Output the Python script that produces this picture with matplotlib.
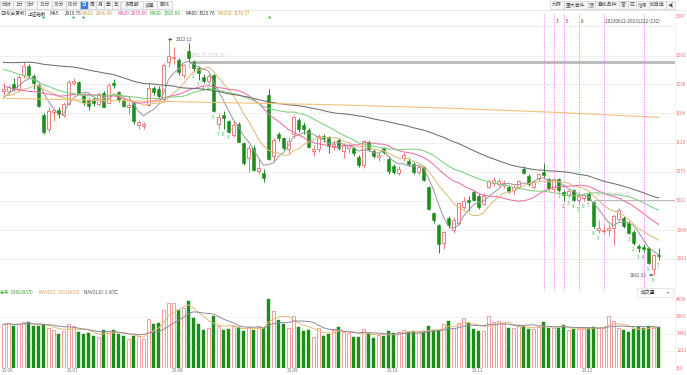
import numpy as np
import pandas as pd
import matplotlib
matplotlib.use("Agg")
import matplotlib.pyplot as plt
from matplotlib.patches import Rectangle
import matplotlib.transforms as mtransforms

plt.rcParams['font.family'] = ['Noto Sans CJK SC', 'DejaVu Sans']

W, H = 687, 375

# daily bars 2023-06-12 .. 2023-12-22 (SSE composite)
opens = [3225, 3226, 3238, 3230, 3255, 3273, 3254, 3236, 3180, 3155, 3186, 3190, 3180, 3202, 3241, 3243,
         3218, 3208, 3211, 3201, 3222, 3204, 3240, 3224, 3209, 3195, 3204, 3162, 3160, 3200, 3231, 3230,
         3210, 3280, 3288, 3284, 3256, 3300, 3280, 3268, 3252, 3245, 3256, 3165, 3181, 3170, 3143, 3165,
         3128, 3100, 3120, 3076, 3072, 3219, 3105, 3146, 3137, 3118, 3145, 3172, 3162, 3153, 3114, 3118,
         3142, 3140, 3122, 3134, 3114, 3120, 3120, 3103, 3088, 3131, 3114, 3103, 3120, 3098, 3086, 3073,
         3100, 3095, 3090, 3075, 3083, 3046, 2997, 2975, 2942, 2988, 2966, 2980, 3010, 3022, 3038, 3030,
         3015, 3046, 3053, 3052, 3051, 3047, 3040, 3047, 3080, 3067, 3046, 3063, 3075, 3061, 3042, 3061,
         3038, 3032, 3040, 3022, 3026, 3034, 3019, 2966, 2964, 2966, 2970, 2986, 2988, 2979, 2963, 2936,
         2935, 2932, 2893, 2920]
highs = [3240, 3237, 3250, 3256, 3280, 3276, 3258, 3240, 3185, 3195, 3193, 3195, 3205, 3246, 3250, 3245,
         3222, 3212, 3214, 3223, 3225, 3240, 3249, 3226, 3212, 3205, 3206, 3172, 3168, 3240, 3235, 3235,
         3278, 3322.13, 3308, 3288, 3276.78, 3316, 3284, 3272, 3258, 3260, 3258, 3185, 3188, 3172, 3170, 3168,
         3130, 3125, 3124, 3100, 3080, 3230, 3138, 3150, 3140, 3140, 3180, 3175, 3168, 3156, 3125, 3145,
         3146, 3142, 3135, 3137, 3128, 3130, 3122, 3106, 3135, 3135, 3118, 3112, 3122, 3104, 3090, 3085,
         3112, 3100, 3093, 3088, 3086, 3048, 3000, 2978, 2965, 2992, 2990, 3018, 3028, 3030, 3040, 3033,
         3035, 3062, 3065, 3064, 3060, 3051, 3050, 3060, 3085, 3070, 3060, 3072, 3091, 3064, 3063, 3063,
         3040, 3042, 3042, 3035, 3036, 3038, 3019.5, 2985, 2975, 2978, 2996, 3008, 2992, 2983, 2966, 2940,
         2940, 2935, 2922, 2932]
lows = [3219, 3218, 3225, 3225, 3250, 3250, 3230, 3195, 3145, 3150, 3170, 3176, 3178, 3200, 3237, 3220,
        3200, 3190, 3198, 3198, 3195, 3203, 3232, 3205, 3195, 3183, 3165, 3155, 3154, 3198, 3218, 3212,
        3205, 3270, 3276, 3256, 3250, 3281.73, 3262, 3247, 3240, 3238, 3186, 3155, 3155, 3148, 3140, 3130,
        3088, 3075, 3076, 3070, 3056, 3096, 3094, 3132, 3115, 3110, 3138, 3150, 3145, 3120, 3105, 3112,
        3130, 3110, 3115, 3115, 3100, 3110, 3105, 3083, 3082, 3114, 3100, 3095, 3108, 3071, 3070, 3068,
        3095, 3085, 3070, 3068, 3058, 3003, 2980, 2923, 2930, 2970, 2960, 2975, 3005, 3002, 3020, 3005,
        3012, 3044, 3048, 3048, 3045, 3036, 3033, 3044, 3070, 3048, 3042, 3058, 3065, 3040, 3038, 3038,
        3020, 3025, 3020, 3015, 3020, 3022.5, 2970, 2960, 2958, 2955, 2938, 2983, 2970, 2958, 2939, 2925,
        2925, 2902, 2882.02, 2910]
closes = [3229, 3233, 3229, 3252, 3273, 3255, 3240, 3197, 3150, 3189, 3190, 3182, 3202, 3243, 3245, 3222,
          3205, 3197, 3203, 3221, 3196, 3236, 3237, 3209, 3197, 3199, 3169, 3167, 3164, 3231, 3223, 3216,
          3275, 3291, 3290, 3261, 3275, 3288, 3268, 3260, 3244, 3254, 3189, 3178, 3176, 3150, 3163, 3131,
          3092, 3120, 3078, 3082, 3064, 3098, 3135, 3137, 3119, 3133, 3177, 3154, 3155, 3122, 3117, 3142,
          3137, 3123, 3126, 3120, 3125, 3124, 3110, 3088, 3133, 3117, 3104, 3107, 3112, 3076, 3074, 3080,
          3107, 3090, 3075, 3084, 3060, 3005, 2984, 2940, 2962, 2975, 2985, 3017, 3021, 3019, 3023, 3009,
          3030, 3058, 3059, 3057, 3054, 3039, 3046, 3057, 3073, 3052, 3055, 3070, 3069, 3044, 3061, 3041,
          3032, 3039, 3022, 3030, 3031, 3023, 2974, 2969, 2967, 2970, 2992, 3004, 2973, 2960, 2942, 2932,
          2931, 2904, 2920, 2917]
# volume in 1e5 lots
volumes = [3136, 3232, 3016, 3184, 3303, 3279, 3016, 2992, 3112, 2897, 2753, 2466, 2657, 3136, 2992, 2609,
           2466, 2538, 2298, 2226, 2705, 2681, 2705, 2466, 2298, 2107, 2322, 2298, 2107, 3495, 3184, 3256,
           4141, 4691, 4691, 4141, 4332, 4811, 3614, 3136, 2705, 2873, 3734, 2992, 2753, 2777, 2992, 2944,
           2657, 2944, 2705, 2992, 2873, 4931, 4069, 3471, 3136, 2897, 3734, 2944, 2633, 2705, 2226, 2873,
           2298, 2466, 2705, 2944, 2585, 2538, 2226, 2226, 2825, 2538, 2155, 2346, 2298, 2633, 2538, 2562,
           2705, 2585, 2633, 2585, 2633, 2992, 2705, 2753, 3136, 3351, 2897, 3232, 3614, 3232, 2777, 2657,
           2657, 3734, 3303, 3375, 3184, 2897, 2873, 3016, 3016, 2825, 2825, 2944, 3303, 2897, 2897, 2897,
           3064, 2705, 2777, 2825, 2825, 2897, 2944, 2897, 2897, 3710, 3400, 2900, 2700, 2600, 2800, 2950,
           2850, 3000, 2895, 2960]
# closes before the window, only used to warm up the moving averages
pre_closes = [3263, 3226, 3250, 3234, 3255, 3266, 3286, 3265, 3251, 3245, 3241, 3261, 3273,
              3297, 3312, 3312, 3327, 3315, 3314, 3318, 3318, 3338, 3385, 3393, 3370, 3367, 3301, 3275,
              3265, 3264, 3285, 3323,
              3350, 3334, 3395, 3357, 3319, 3310, 3272, 3311, 3291, 3284, 3297, 3284, 3296, 3246, 3212,
              3201, 3212, 3221, 3224, 3205,
              3204, 3231, 3232, 3196, 3198, 3214, 3231]
ma250_idx = [0, 11, 22, 33, 44, 55, 66, 77, 88, 99, 110, 121, 131]
ma250_val = [3212, 3210, 3208, 3206, 3204, 3202, 3200, 3197, 3194, 3190, 3186, 3181, 3176.57]

month_labels = ["23.06", "23.07", "23.08", "23.09", "23.10", "23.11", "23.12"]
month_idx = [0, 13, 34, 57, 77, 94, 116]

price_ticks = [3347, 3292, 3238, 3184, 3129, 3075, 3021, 2966, 2912]
vol_ticks = [4884, 3663, 2442, 1221, 0]
vol_tick_labels = ["4856", "3663", "2442", "1221", "310"]

gaps = [(37, 3276.78, 3281.73), (118, 3019.50, 3022.50)]
td_runs = [(37, 9), (111, 9), (125, 7)]
event_idx = [108, 110, 112, 115, 120, 128]
event_num = {110: "3", 112: "5", 115: "8"}

RED = '#ef7a7a'
VRED = '#f39c9c'
GREEN = '#1d8c1d'
FS = 3.5      # chinese / ui text
FN = 3.3      # numbers

fig = plt.figure(figsize=(W / 100, H / 100), dpi=100)


def px_axes(x0, y0, x1, y1, **kw):
    return fig.add_axes([x0 / W, 1 - y1 / H, (x1 - x0) / W, (y1 - y0) / H], **kw)


ax = px_axes(0, 20, 675, 288)
axv = px_axes(0, 296, 675, 368)
for a in (ax, axv):
    a.set_xlim(-0.7, 134.3)
    a.set_xticks([])
    a.set_yticks([])
    for s in a.spines.values():
        s.set_visible(False)
    a.patch.set_alpha(0)
ax.set_ylim(2857.8, 3358.3)
axv.set_ylim(0, 5170)

idx = np.arange(len(closes))
o, h, l, c = map(np.array, (opens, highs, lows, closes))
v = np.array(volumes, dtype=float)
up = c >= o

# grid
for t in price_ticks:
    ax.axhline(t, color='#eeeeee', lw=0.6, zorder=0)
for t in vol_ticks[1:-1]:
    axv.axhline(t, color='#f0f0f0', lw=0.6, zorder=0)

# candles
ax.vlines(idx[up], l[up], h[up], color=RED, lw=0.7, zorder=2)
ax.vlines(idx[~up], l[~up], h[~up], color=GREEN, lw=0.7, zorder=2)
body_lo = np.minimum(o, c)
body_h = np.maximum(np.abs(c - o), 0.9)
ax.bar(idx[up], body_h[up], bottom=body_lo[up], width=0.68, facecolor='white',
       edgecolor=RED, lw=0.7, zorder=3)
ax.bar(idx[~up], body_h[~up], bottom=body_lo[~up], width=0.68, color=GREEN,
       edgecolor=GREEN, lw=0.4, zorder=3)

# moving averages
full = pd.Series(list(pre_closes) + list(closes), dtype=float)
n_pre = len(pre_closes)
ma_cfg = [(5, '#9c9c9c'), (10, '#dfbb7c'), (20, '#f06fa4'), (30, '#80cf80'), (60, '#6e6e6e')]
for n, col in ma_cfg:
    ma = full.rolling(n).mean().values[n_pre:]
    ax.plot(idx, ma, color=col, lw=0.75, zorder=4)
ax.plot(ma250_idx, ma250_val, color='#f2c27c', lw=0.8, zorder=4)

# gap bands
for gi, glo, ghi in gaps:
    ax.fill_between([gi, 134.3], glo, ghi, color='#bdbdbd', lw=0, zorder=1)
    ax.annotate(f"{ghi:.2f}-{glo:.2f}", xy=(gi, ghi), xytext=(2, 2), textcoords='offset points',
                fontsize=FN, color='#c8c8c8', va='bottom', ha='left', zorder=5)

# TD sequence counts under the lows
for start, count in td_runs:
    for k in range(count):
        i = start + k
        col = '#2cb8d8' if k == 8 else '#3cbf3c'
        ax.annotate(str(k + 1), xy=(i, l[i]), xytext=(0, -2), textcoords='offset points',
                    ha='center', va='top', fontsize=FN, color=col, zorder=5)

# high / low marks
imax = int(np.argmax(h))
imin = int(np.argmin(l))
ax.annotate(f"{h[imax]:.2f}", xy=(imax, h[imax]), xytext=(5, 0), textcoords='offset points',
            fontsize=FN, color='#555555', va='center', ha='left',
            arrowprops=dict(arrowstyle='<-', color='#555555', lw=0.6, shrinkA=0, shrinkB=0))
ax.annotate(f"{l[imin]:.2f}", xy=(imin, l[imin]), xytext=(-5, 0), textcoords='offset points',
            fontsize=FN, color='#555555', va='center', ha='right',
            arrowprops=dict(arrowstyle='->', color='#555555', lw=0.6, shrinkA=0, shrinkB=0))

# event lines
xtr_p = ax.get_xaxis_transform()
for i in event_idx:
    ax.axvline(i, ymin=-0.008, ymax=1.022, color='#ff70ff', lw=0.6, ls=(0, (1.5, 1.5)),
               clip_on=False, zorder=1)
    if i in event_num:
        ax.text(i + 0.5, 0.995, event_num[i], transform=xtr_p,
                fontsize=FN, color='#444444', ha='left', va='center')
ax.text(event_idx[4] + 0.3, 0.995, "20230612-20231222 (132)", transform=xtr_p,
        fontsize=FN, color='#444444', ha='left', va='center')

# price axis labels
ytr = ax.get_yaxis_transform()
for t in price_ticks:
    tr = ytr if t != price_ticks[0] else mtransforms.offset_copy(ytr, fig=fig, y=10, units='dots')
    ax.text(1.002, t, str(t), transform=tr, fontsize=FN, color='#f07070', ha='left', va='center')

# volume bars
axv.bar(idx[up], v[up], width=0.78, facecolor='white', edgecolor=VRED, lw=0.7, zorder=2)
axv.bar(idx[~up], v[~up], width=0.78, color=GREEN, edgecolor=GREEN, lw=0.3, zorder=2)
vs = pd.Series(v)
axv.plot(idx, vs.rolling(5, min_periods=1).mean(), color='#f0b47a', lw=0.7, zorder=3)
axv.plot(idx, vs.rolling(10, min_periods=1).mean(), color='#8a8a9a', lw=0.7, zorder=3)
vtr = axv.get_yaxis_transform()
for t, lab in zip(vol_ticks, vol_tick_labels):
    axv.text(1.002, t, lab, transform=vtr, fontsize=FN, color='#f07070', ha='left', va='center')
xtr = axv.get_xaxis_transform()
for i, lab in zip(month_idx, month_labels):
    axv.text(i - 0.4, -0.04, lab, transform=xtr, fontsize=FN, color='#777777', ha='left', va='center')

# overlay for the UI chrome, in pixel coordinates
ov = fig.add_axes([0, 0, 1, 1], zorder=10)
ov.set_xlim(0, W)
ov.set_ylim(H, 0)
ov.axis('off')
ov.patch.set_alpha(0)


def button(x0, x1, label, active=False):
    ov.add_patch(Rectangle((x0, 0.5), x1 - x0, 8.5, facecolor='#3b7fe0' if active else '#f7f7f7',
                           edgecolor='#d0d0d0', lw=0.5))
    ov.text((x0 + x1) / 2, 4.8, label, fontsize=FS, color='white' if active else '#555555',
            ha='center', va='center')


left_btns = [(0, 13, "分时"), (13, 25, "1分"), (25, 37, "5分"), (37, 52, "15分"), (52, 66, "30分"),
             (66, 80, "60分"), (80, 88, "日"), (88, 96, "周"), (96, 104, "月"), (104, 112, "季"),
             (112, 120, "年"), (121, 143, "多周期"), (143, 157, "设置"), (157, 172, "画线")]
for x0, x1, lab in left_btns:
    button(x0, x1, lab, lab == "日")
right_btns = [(550, 564, "九转"), (564, 588, "重大事件"), (588, 595, "顶"), (595, 619, "叠加品种"),
              (619, 628, "窗"), (628, 636, "区"), (636, 649, "信号"), (649, 666, "加自选"), (666, 675, "◀|")]
for x0, x1, lab in right_btns:
    button(x0, x1, lab)
ov.plot([0, W], [9.5, 9.5], color='#e4e4e4', lw=0.6)

# MA header
hdr = [(0, "日线(前复权)", '#333333'), (28, "上证指数", '#333333'),
       (50, "MA5:", '#333333'), (65, "2919.76", '#333333'),
       (82, "MA10:", '#c79a3c'), (96, "2946.40", '#c79a3c'),
       (117, "MA20:", '#e0409a'), (131, "2975.66", '#e0409a'),
       (150, "MA30:", '#2fa52f'), (164, "3002.69", '#2fa52f'),
       (185, "MA60:", '#333333'), (199, "3025.76", '#333333'),
       (218, "MA250:", '#d99a2e'), (234, "3176.57", '#d99a2e')]
for x, s, col in hdr:
    ov.text(x, 13.5, s, fontsize=FN, color=col, ha='left', va='center')
for x in (43, 73, 83, 269):
    ov.text(x, 18.5, "+", fontsize=4, color='#2fa52f', ha='center', va='center', fontweight='bold')

# volume header
vh = [(0, "总手: 296028370", '#2fa52f'), (39, "MAVOL5: 293149326", '#e0a050'),
      (84, "MAVOL10: 2.90亿", '#555566')]
for x, s, col in vh:
    ov.text(x, 292, s, fontsize=3.1, color=col, ha='left', va='center')
ov.add_patch(Rectangle((637, 288), 36, 9, facecolor='white', edgecolor='#dddddd', lw=0.5))
ov.text(648, 292.5, "成交量", fontsize=FS, color='#333333', ha='center', va='center')
ov.text(668, 292.5, "▾", fontsize=3, color='#666666', ha='center', va='center')
ov.plot([675, 675], [10, 370], color='#eeeeee', lw=0.5)

fig.savefig("out.png", dpi=100)
